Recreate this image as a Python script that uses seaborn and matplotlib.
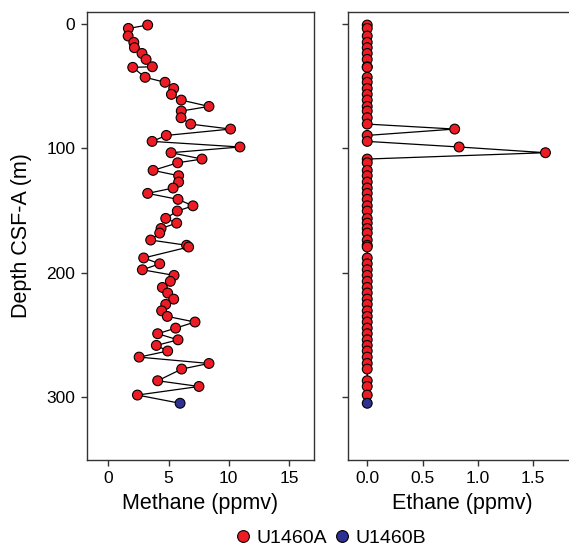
import numpy as np
import pandas as pd
import matplotlib
matplotlib.use("Agg")
import matplotlib.pyplot as plt
import seaborn as sns

# ---------------- data ----------------
depth_a = [0.8, 3.5, 9.6, 14.7, 19.0, 23.6, 28.4, 34.3, 34.8, 42.8,
           46.8, 51.8, 56.5, 61.1, 66.2, 69.9, 75.3, 80.4, 84.4, 89.5,
           94.3, 98.8, 103.4, 108.5, 111.5, 117.6, 121.9, 127.0, 131.8, 136.1,
           140.9, 146.1, 150.3, 156.2, 160.0, 164.3, 168.0, 173.6, 177.8, 179.2,
           188.0, 192.7, 197.5, 202.0, 206.8, 211.7, 216.2, 221.1, 225.3, 230.5,
           235.0, 239.5, 244.4, 248.9, 253.8, 258.3, 262.8, 267.7, 272.8, 277.3,
           286.7, 291.3, 298.2]
methane_a = [3.27, 1.67, 1.65, 2.12, 2.17, 2.80, 3.14, 3.66, 2.03, 3.06,
             4.71, 5.43, 5.24, 6.06, 8.36, 6.06, 6.04, 6.84, 10.15, 4.82,
             3.64, 10.93, 5.21, 7.78, 5.76, 3.72, 5.84, 5.84, 5.38, 3.27,
             5.79, 7.03, 5.73, 4.77, 5.68, 4.38, 4.27, 3.52, 6.50, 6.67,
             2.94, 4.27, 2.83, 5.46, 5.15, 4.49, 4.93, 5.43, 4.77, 4.43,
             4.90, 7.20, 5.59, 4.10, 5.79, 3.99, 4.93, 2.56, 8.36, 6.09,
             4.10, 7.53, 2.42]
ethane_a = [0, 0, 0, 0, 0, 0, 0, 0, 0, 0,
            0, 0, 0, 0, 0, 0, 0, 0, 0.79, 0,
            0, 0.83, 1.61, 0, 0, 0, 0, 0, 0, 0,
            0, 0, 0, 0, 0, 0, 0, 0, 0, 0,
            0, 0, 0, 0, 0, 0, 0, 0, 0, 0,
            0, 0, 0, 0, 0, 0, 0, 0, 0, 0,
            0, 0, 0]
depth_b = [304.8]
methane_b = [5.96]
ethane_b = [0.0]

holes = ["U1460A", "U1460B"]
hole_colors = ["#ED1C24", "#2E3192"]
methane_ticks = [0, 5, 10, 15]
ethane_ticks = [0.0, 0.5, 1.0, 1.5]
depth_ticks = [0, 100, 200, 300]

df = pd.DataFrame({
    "depth": depth_a + depth_b,
    "methane": methane_a + methane_b,
    "ethane": ethane_a + ethane_b,
    "hole": [holes[0]] * len(depth_a) + [holes[1]] * len(depth_b),
})

# ---------------- style ----------------
sns.set_style("ticks")
plt.rcParams["font.family"] = ["Liberation Sans", "DejaVu Sans"]
spine_c = "#333333"
plt.rcParams.update({
    "text.color": "black",
    "axes.labelcolor": "black",
    "axes.edgecolor": spine_c,
    "axes.linewidth": 1.0,
    "xtick.color": spine_c,
    "ytick.color": spine_c,
    "xtick.labelcolor": "black",
    "ytick.labelcolor": "black",
    "xtick.major.size": 4.3,
    "ytick.major.size": 4.3,
    "xtick.major.width": 1.0,
    "ytick.major.width": 1.0,
    "xtick.major.pad": 4,
    "ytick.major.pad": 4,
})

W, H = 569, 546
fig = plt.figure(figsize=(W / 100, H / 100), dpi=100)
bottom = 1 - 459.5 / H
height = (459.5 - 12) / H
ax1 = fig.add_axes([86.7 / W, bottom, 227.6 / W, height])
ax2 = fig.add_axes([348.3 / W, bottom, 227.6 / W, height])
ax2.spines["right"].set_visible(False)

palette = dict(zip(holes, hole_colors))
for ax, col in ((ax1, "methane"), (ax2, "ethane")):
    sns.lineplot(data=df, x=col, y="depth", sort=False, estimator=None,
                 color="black", linewidth=0.9, ax=ax, zorder=2)
    sns.scatterplot(data=df, x=col, y="depth", hue="hole", palette=palette,
                    s=50, edgecolor="black", linewidth=0.8, ax=ax, zorder=3,
                    legend=(ax is ax1))

for ax in (ax1, ax2):
    ax.set_ylim(350, -9.7)
    ax.set_yticks(depth_ticks)
    ax.tick_params(labelsize=12.5)

ax1.set_xlim(-1.79, 17.1)
ax1.set_xticks(methane_ticks)
ax2.set_xlim(-0.171, 1.885)
ax2.set_xticks(ethane_ticks)
ax2.set_xticklabels([f"{t:.1f}" for t in ethane_ticks])
ax2.set_yticklabels([])

ax1.set_xlabel("Methane (ppmv)", fontsize=15.5, labelpad=5)
ax2.set_xlabel("Ethane (ppmv)", fontsize=15.5, labelpad=5)
ax1.set_ylabel("Depth CSF-A (m)", fontsize=15.5, labelpad=10)
ax2.set_ylabel("")

handles, labels = ax1.get_legend_handles_labels()
ax1.get_legend().remove()
fig.legend(handles, labels, loc="center", bbox_to_anchor=(331 / W, 1 - 538 / H),
           ncol=2, frameon=False, fontsize=14, handlelength=0.8,
           handletextpad=0.3, columnspacing=0.35, borderaxespad=0,
           markerscale=1.2, labelcolor="black")

fig.savefig("out.png", dpi=100)
